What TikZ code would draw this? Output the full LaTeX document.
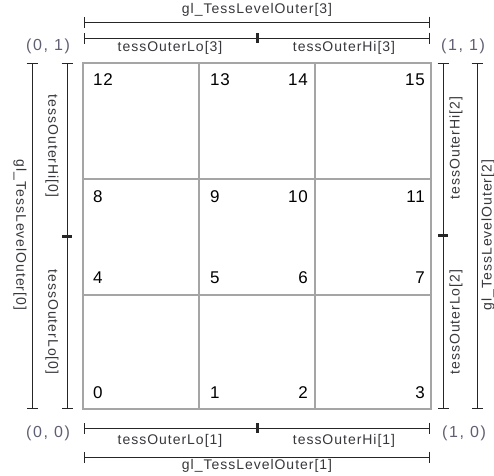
\documentclass[tikz,border=0pt]{standalone}
\usepackage{fontspec}
\setmainfont{Liberation Sans}
\newfontfamily\lblfont[LetterSpace=7]{Liberation Sans}
\newfontfamily\cornerfont[LetterSpace=10]{Liberation Sans}
\newfontfamily\numfont[LetterSpace=4]{Liberation Sans}
\usetikzlibrary{arrows.meta}
\definecolor{gridgray}{RGB}{165,165,165}
\definecolor{lblgray}{RGB}{55,55,60}
\definecolor{cornergray}{RGB}{95,95,115}
\begin{document}
\begin{tikzpicture}[x=1pt,y=-1pt,
  gridline/.style={draw=gridgray, line width=1.3pt},
  dimline/.style={draw=black!85, line width=1pt, {Bar[width=11pt]}-{Bar[width=11pt]}},
  midtick/.style={draw=black!85, line width=3pt},
  lbl/.style={inner sep=0pt, text=lblgray, font=\lblfont\fontsize{14}{16}\selectfont},
  corner/.style={inner sep=0pt, text=cornergray, font=\cornerfont\fontsize{16}{18}\selectfont},
  num/.style={inner sep=0pt, text=black, font=\numfont\fontsize{17}{19}\selectfont}]
\useasboundingbox (0,0) rectangle (494,475);

% patch grid
\draw[gridline] (83,63) rectangle (431,409);
\draw[gridline] (199,63) -- (199,409);
\draw[gridline] (315,63) -- (315,409);
\draw[gridline] (83,179) -- (431,179);
\draw[gridline] (83,295) -- (431,295);

% vertex numbers
\foreach \n/\x/\y/\a in {12/93/85/base west, 13/210/85/base west, 14/308/85/base east, 15/425/85/base east,
                          8/93/202/base west, 9/210/202/base west, 10/308/202/base east, 11/425/202/base east,
                          4/93/283/base west, 5/210/283/base west, 6/308/283/base east, 7/425/283/base east,
                          0/93/398/base west, 1/210/398/base west, 2/308/398/base east, 3/425/398/base east}
  \node[num, anchor=\a] (v\n) at (\x,\y) {\n};

% dimension end points
\coordinate (t3a) at (84,22);  \coordinate (t3b) at (430,22);
\coordinate (s3a) at (84,38);  \coordinate (s3b) at (430,38);  \coordinate (s3m) at (257,38);
\coordinate (s1a) at (84,428); \coordinate (s1b) at (430,428); \coordinate (s1m) at (257,428);
\coordinate (t1a) at (84,457); \coordinate (t1b) at (430,457);
\coordinate (t0a) at (32,63);  \coordinate (t0b) at (32,409);
\coordinate (s0a) at (67,63);  \coordinate (s0b) at (67,409);  \coordinate (s0m) at (67,236);
\coordinate (s2a) at (443,63); \coordinate (s2b) at (443,409); \coordinate (s2m) at (443,235);
\coordinate (t2a) at (477,63); \coordinate (t2b) at (477,409);

% dimension lines
\draw[dimline] (t3a) -- (t3b);
\draw[dimline] (s3a) -- (s3b);
\draw[dimline] (s1a) -- (s1b);
\draw[dimline] (t1a) -- (t1b);
\draw[dimline] (t0a) -- (t0b);
\draw[dimline] (s0a) -- (s0b);
\draw[dimline] (s2a) -- (s2b);
\draw[dimline] (t2a) -- (t2b);

% split marks between the Lo and Hi halves
\draw[midtick] (s3m) ++(0,-5) -- ++(0,10);
\draw[midtick] (s1m) ++(0,-5) -- ++(0,10);
\draw[midtick] (s0m) ++(-5,0) -- ++(10,0);
\draw[midtick] (s2m) ++(-5,0) -- ++(10,0);

% labels
\node[lbl] (l3)  at (257,10)  {gl\_TessLevelOuter[3]};
\node[lbl] (lo3) at (170,48)  {tessOuterLo[3]};
\node[lbl] (hi3) at (344,48)  {tessOuterHi[3]};
\node[lbl] (lo1) at (170,441) {tessOuterLo[1]};
\node[lbl] (hi1) at (344,441) {tessOuterHi[1]};
\node[lbl] (l1)  at (257,466) {gl\_TessLevelOuter[1]};
\node[lbl, rotate=-90] (hi0) at (52,146) {tessOuterHi[0]};
\node[lbl, rotate=-90] (lo0) at (52,322) {tessOuterLo[0]};
\node[lbl, rotate=-90] (l0)  at (20,235) {gl\_TessLevelOuter[0]};
\node[lbl, rotate=90] (hi2) at (456,148) {tessOuterHi[2]};
\node[lbl, rotate=90] (lo2) at (456,322) {tessOuterLo[2]};
\node[lbl, rotate=90] (l2)  at (488,235) {gl\_TessLevelOuter[2]};

% domain corners
\node[corner] (c01) at (48,46)  {(0, 1)};
\node[corner] (c11) at (463,46) {(1, 1)};
\node[corner] (c00) at (48,433) {(0, 0)};
\node[corner] (c10) at (464,433) {(1, 0)};
\end{tikzpicture}
\end{document}
